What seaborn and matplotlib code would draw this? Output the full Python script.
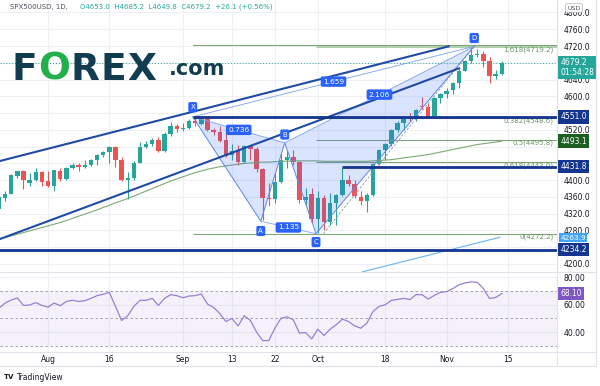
import numpy as np
import pandas as pd
import matplotlib
matplotlib.use("Agg")
import matplotlib.pyplot as plt
from matplotlib.patches import Polygon
from matplotlib.lines import Line2D
import seaborn as sns

# ---------------- data ----------------
bar_index = list(range(-8, 75))   # weekday index, 0 = Aug 2 2021
opens = [4332, 4358, 4368, 4410, 4422, 4394, 4401, 4419, 4398, 4387, 4423, 4403, 4429, 4437, 4432, 4437,
         4448, 4461, 4468, 4479, 4448, 4400, 4406, 4442, 4480, 4486, 4496, 4470, 4510, 4529, 4523, 4524,
         4541, 4535, 4546, 4520, 4514, 4495, 4459, 4472, 4443, 4481, 4474, 4426, 4358, 4354, 4396, 4449,
         4455, 4443, 4352, 4366, 4308, 4357, 4300, 4346, 4364, 4400, 4391, 4361, 4351, 4364, 4438, 4471,
         4486, 4520, 4536, 4550, 4545, 4578, 4575, 4552, 4596, 4605, 4614, 4631, 4661, 4684, 4698, 4702,
         4685, 4649, 4653.0]
highs = [4360, 4373, 4415, 4423, 4425, 4416, 4430, 4421, 4422, 4424, 4428, 4431, 4441, 4441, 4449, 4450,
         4462, 4470, 4481, 4482, 4456, 4419, 4445, 4490, 4493, 4500, 4503, 4514, 4538, 4533, 4536, 4546,
         4552, 4548, 4549, 4524, 4529, 4521, 4487, 4485, 4485, 4484, 4478, 4430, 4394, 4416, 4465, 4470,
         4473, 4446, 4382, 4382, 4375, 4365, 4369, 4366, 4430, 4413, 4400, 4375, 4370, 4440, 4475, 4488,
         4521, 4540, 4550, 4560, 4570, 4598, 4585, 4598, 4608, 4620, 4635, 4664, 4686, 4718, 4714, 4708,
         4693, 4662, 4685.2]
lows = [4328, 4351, 4366, 4405, 4380, 4386, 4398, 4386, 4384, 4373, 4398, 4400, 4427, 4422, 4429, 4434,
        4436, 4455, 4440, 4432, 4398, 4356, 4401, 4440, 4477, 4482, 4468, 4466, 4505, 4515, 4517, 4522,
        4530, 4531, 4517, 4507, 4490, 4456, 4447, 4435, 4440, 4448, 4420, 4306, 4338, 4346, 4394, 4428,
        4436, 4346, 4340, 4300, 4275, 4282, 4294, 4292, 4362, 4387, 4358, 4340, 4323, 4362, 4436, 4447,
        4482, 4515, 4520, 4540, 4542, 4569, 4550, 4548, 4583, 4596, 4605, 4621, 4660, 4679, 4695, 4670,
        4631, 4641, 4649.8]
closes = [4358.7, 4367.5, 4411.8, 4422.3, 4401.5, 4400.6, 4419.2, 4395.3, 4387.2, 4423.2, 4402.7, 4429.1,
          4436.5, 4432.4, 4436.8, 4447.7, 4460.8, 4468.0, 4479.7, 4448.1, 4400.3, 4405.8, 4441.7, 4479.5,
          4486.2, 4496.2, 4470.0, 4509.4, 4528.8, 4522.7, 4524.1, 4541.0, 4535.4, 4546.0, 4520.0, 4514.1,
          4493.3, 4458.6, 4468.7, 4443.1, 4480.7, 4473.8, 4426.0, 4357.7, 4354.2, 4395.6, 4449.0, 4455.5,
          4443.1, 4352.6, 4359.5, 4307.5, 4357.0, 4300.5, 4345.7, 4363.6, 4399.8, 4391.3, 4361.2, 4350.7,
          4363.8, 4438.3, 4471.4, 4486.5, 4519.6, 4536.2, 4549.8, 4544.9, 4566.5, 4574.8, 4551.7, 4596.4,
          4605.4, 4613.7, 4630.7, 4660.6, 4684.0, 4697.5, 4701.7, 4685.3, 4649.0, 4653.1, 4679.2]
ma_values = [4260, 4263, 4267, 4271, 4275, 4279, 4283, 4287, 4291, 4295, 4299, 4304, 4309, 4314, 4319, 4324,
             4329, 4335, 4340, 4346, 4351, 4356, 4362, 4368, 4374, 4380, 4386, 4392, 4398, 4403, 4408, 4413,
             4418, 4422, 4426, 4429, 4432, 4434, 4436, 4438, 4440, 4441, 4442, 4443, 4443, 4444, 4445, 4445,
             4446, 4446, 4446, 4446, 4446, 4445, 4445, 4445, 4445, 4445, 4445, 4445, 4445, 4446, 4447, 4448,
             4449, 4451, 4453, 4455, 4457, 4459, 4461, 4464, 4467, 4470, 4473, 4476, 4479, 4482, 4485, 4487,
             4489, 4491, 4493.1]
rsi_values = [57.5, 61.2, 63.4, 64.9, 59.5, 59.8, 61.5, 59.5, 58.3, 61.2, 59.3, 62.4, 63.2, 62.4, 62.9, 64.6,
              66.6, 67.6, 69.0, 58.8, 48.5, 52.0, 58.8, 63.2, 63.2, 64.6, 59.5, 64.6, 67.3, 66.6, 65.1, 66.3,
              66.6, 67.8, 60.5, 58.0, 53.7, 47.8, 50.0, 44.6, 52.0, 48.5, 40.2, 33.9, 33.9, 42.9, 50.2, 51.2,
              49.0, 39.3, 39.8, 35.1, 42.2, 37.6, 42.2, 45.4, 49.5, 47.8, 44.6, 42.9, 46.6, 55.1, 58.8, 60.0,
              63.2, 63.9, 64.6, 63.7, 67.3, 67.3, 64.1, 66.8, 69.0, 69.5, 71.7, 74.4, 75.9, 76.6, 76.3, 71.7,
              64.5, 65.3, 68.1]

date_tick_pos = [0, 10, 22, 30, 37, 44, 55, 65, 75]
date_tick_labels = ["Aug", "16", "Sep", "13", "22", "Oct", "18", "Nov", "15"]
price_ticks = list(range(4200, 4801, 40))
hidden_price_labels = [4680, 4560, 4480, 4440, 4240]   # covered by value tags in the reference
rsi_ticks = [40, 60, 80]

# XABCD pattern
pattern_names = ["X", "A", "B", "C", "D"]
pattern_x = [23.6, 34.7, 38.6, 43.7, 69.5]
pattern_y = [4551.0, 4302.0, 4489.0, 4272.2, 4719.2]
ratio_labels = ["0.736", "1.135", "2.106", "1.659"]
ratio_pairs = [(0, 2), (1, 3), (2, 4), (0, 4)]

# channel trend lines (start/end as bar index, price)
upper_channel = [(-8.0, 4445.1), (65.5, 4719.8)]
lower_channel = [(-8.0, 4258.7), (67.2, 4667.7)]
light_trend = [(51.2, 4181.0), (73.7, 4263.9)]

# horizontal levels
level_prices = [4551.0, 4431.8, 4234.2]
level_starts = [23.6, 47.9, -8.0]
fib_prices = [4719.2, 4548.6, 4495.8, 4443.0, 4272.2]
fib_labels = ["1.618(4719.2)", "0.382(4548.6)", "0.5(4495.8)", "0.618(4443.0)", "0(4272.2)"]
fib_starts = [43.7, 43.7, 43.7, 43.7, 23.6]
fib_ext_price = 4721.8
fib_ext_start = 23.6
last_price = 4679.2

# ---------------- style ----------------
sns.set_theme(style="white")
plt.rcParams["font.family"] = ["DejaVu Sans"]

W, H = 600, 386
fig = plt.figure(figsize=(W / 100, H / 100), dpi=100)
fig.patch.set_facecolor("white")

def fx(x):
    return x / W

def fy(y):
    return 1 - y / H

PLOT_R = 557
ax = fig.add_axes([0, fy(272), fx(PLOT_R), 272 / H])
ax2 = fig.add_axes([0, fy(352), fx(PLOT_R), 80 / H], sharex=ax)
for a in (ax, ax2):
    a.set_facecolor("white")
    for s in a.spines.values():
        s.set_visible(False)

ax.set_xlim(-7.83, 83.0)
ax.set_ylim(4180.9, 4829.8)
ax2.set_ylim(25.6, 83.8)

GREEN = "#26a69a"
RED = "#ef5350"
GRID = "#eef0f5"
TXT = "#131722"

# grid / ticks
ax.set_xticks(date_tick_pos)
ax.set_yticks(price_ticks)
ax.set_yticklabels(["" if v in hidden_price_labels else f"{v:.1f}" for v in price_ticks])
ax.grid(True, color=GRID, lw=0.8, zorder=0)
ax2.set_yticks(rsi_ticks)
ax2.set_yticklabels([f"{v:.2f}" for v in rsi_ticks])
ax2.grid(True, color=GRID, lw=0.8, zorder=0)
ax2.set_xticks(date_tick_pos)
ax2.set_xticklabels(date_tick_labels)
for a in (ax, ax2):
    a.yaxis.tick_right()
    a.tick_params(axis="y", length=0, pad=4.5, labelsize=5.5, labelcolor=TXT)
    a.set_axisbelow(True)
ax.tick_params(axis="x", length=0, labelbottom=False)
ax2.tick_params(axis="x", length=0, pad=2, labelsize=5.5, labelcolor=TXT)

# candles
colors = [GREEN if c >= o else RED for o, c in zip(opens, closes)]
o_arr = np.array(opens, dtype=float)
c_arr = np.array(closes, dtype=float)
ax.vlines(bar_index, lows, highs, colors=colors, lw=0.8, zorder=3)
ax.bar(bar_index, np.maximum(np.abs(c_arr - o_arr), 1.5), bottom=np.minimum(o_arr, c_arr),
       width=0.72, color=colors, linewidth=0, zorder=4)

# moving average
sns.lineplot(x=bar_index, y=ma_values, ax=ax, color="#7fa874", linewidth=0.8, zorder=5)

# fib levels
FIB = "#7ea67a"
for p, s in zip(fib_prices, fib_starts):
    lw = 2.2 if p == fib_prices[0] else 0.8
    col = "#b5d2b0" if p == fib_prices[0] else FIB
    ax.plot([s, 83.0], [p, p], color=col, lw=lw, zorder=5, solid_capstyle="butt")
ax.plot([fib_ext_start, 83.0], [fib_ext_price, fib_ext_price], color=FIB, lw=0.8, zorder=5)
for p, t in zip(fib_prices, fib_labels):
    ax.annotate(t, (82.4, p), xytext=(0, -2.3), textcoords="offset points", ha="right", va="center",
                fontsize=5, color="#6b9566", zorder=6)

# pattern fills / lines
PB = "#2962ff"
xa = list(zip(pattern_x, pattern_y))
ax.add_patch(Polygon([xa[0], xa[1], xa[2]], closed=True, fc=PB, alpha=0.17, ec="none", zorder=5))
ax.add_patch(Polygon([xa[2], xa[3], xa[4]], closed=True, fc=PB, alpha=0.17, ec="none", zorder=5))
ax.plot(pattern_x, pattern_y, color="#5b86f0", lw=0.7, zorder=6)
for (a_, b_) in ratio_pairs:
    ax.plot([pattern_x[a_], pattern_x[b_]], [pattern_y[a_], pattern_y[b_]], color="#7fa0f2", lw=0.6, zorder=6)
ax.plot([pattern_x[3] + 1.2, pattern_x[4]], [pattern_y[3], pattern_y[4]], color="#8c97ad", lw=0.6,
        ls=(0, (3, 2)), zorder=6)

# channel lines
NAVY = "#1f4ba5"
for seg in (upper_channel, lower_channel):
    ax.plot([seg[0][0], seg[1][0]], [seg[0][1], seg[1][1]], color=NAVY, lw=1.5, zorder=7,
            solid_capstyle="butt")
ax.plot([light_trend[0][0], light_trend[1][0]], [light_trend[0][1], light_trend[1][1]],
        color="#64b5f6", lw=0.8, zorder=7)

# horizontal levels
DNAVY = "#14358f"
for p, s in zip(level_prices, level_starts):
    ax.plot([s, 83.0], [p, p], color=DNAVY, lw=2.0, zorder=7, solid_capstyle="butt")

# last price dotted line
ax.axhline(last_price, color=GREEN, lw=0.7, ls=(0, (1, 2)), zorder=6)

# pattern point labels
offsets = [7, -7, 6, -6, 6]
for n, x, y, off in zip(pattern_names, pattern_x, pattern_y, offsets):
    ax.annotate(n, (x, y), xytext=(0, off), textcoords="offset points", ha="center", va="center",
                fontsize=5, color="white", zorder=9,
                bbox=dict(boxstyle="round,pad=0.3,rounding_size=0.25", fc=PB, ec="none"))
for t, (a_, b_) in zip(ratio_labels, ratio_pairs):
    mx = (pattern_x[a_] + pattern_x[b_]) / 2
    my = (pattern_y[a_] + pattern_y[b_]) / 2
    ax.annotate(t, (mx, my), ha="center", va="center", fontsize=5.3, color="white", zorder=9,
                bbox=dict(boxstyle="round,pad=0.3,rounding_size=0.25", fc=PB, ec="none"))

# RSI panel
ax2.axhspan(30, 70, color="#7e57c2", alpha=0.08, lw=0, zorder=1)
for lv in (70, 50, 30):
    ax2.axhline(lv, color="#9598a1", lw=0.6, ls=(0, (3, 3)), zorder=2)
sns.lineplot(x=bar_index, y=rsi_values, ax=ax2, color="#9a7fd6", linewidth=0.9, zorder=4)

for a in (ax, ax2):
    a.set_xlabel("")
    a.set_ylabel("")

# right-side value tags
def tag(a, y, text, fc, size=5.5, pad=0.28):
    a.text(1.006, y, text, transform=a.get_yaxis_transform(), ha="left", va="center", fontsize=size,
           color="white", zorder=20, clip_on=False,
           bbox=dict(boxstyle=f"square,pad={pad}", fc=fc, ec="none"))

tag(ax, 4551.0, "4551.0", "#14358f")
tag(ax, 4493.1, "4493.1", "#1b5e20")
tag(ax, 4431.8, "4431.8", "#14358f")
tag(ax, 4262.5, "4263.9", "#42a5f5", size=5.3, pad=0.18)
tag(ax, 4234.2, "4234.2", "#14358f")
tag(ax, 4668.5, "4679.2\n01:54:28", GREEN)
tag(ax2, 68.1, "68.10", "#7e57c2")

# borders
BORDER = "#e0e3eb"
fig.add_artist(Line2D([fx(PLOT_R), fx(PLOT_R)], [fy(0), fy(366)], color=BORDER, lw=0.8))
fig.add_artist(Line2D([0, fx(596)], [fy(272), fy(272)], color=BORDER, lw=0.8))
fig.add_artist(Line2D([0, fx(596)], [fy(352), fy(352)], color=BORDER, lw=0.8))
fig.add_artist(Line2D([0, fx(596)], [fy(366), fy(366)], color=BORDER, lw=0.8))
fig.add_artist(Line2D([fx(596), fx(596)], [fy(0), fy(366)], color=BORDER, lw=0.8))

# header
fig.text(fx(10), fy(7), "SPX500USD, 1D,", fontsize=5, color="#50535e", va="center")
fig.text(fx(80), fy(7), "O4653.0  H4685.2  L4649.8  C4679.2  +26.1 (+0.56%)", fontsize=5,
         color=GREEN, va="center")
fig.text(fx(574), fy(8), "USD", fontsize=4.5, color="#50535e", ha="center", va="center",
         bbox=dict(boxstyle="round,pad=0.3", fc="white", ec="#b2b5be", lw=0.5))

# FOREX.com logo
LOGO = "#123c50"
for ch, x0, col in zip(["F", "O", "R", "E", "X"], [11.5, 38.5, 71, 101, 127],
                       [LOGO, "#22b04b", LOGO, LOGO, LOGO]):
    fig.text(fx(x0), fy(80), ch, fontsize=27, fontweight="heavy", color=col, va="baseline")
fig.text(fx(169), fy(75), ".com", fontsize=15, fontweight="bold", color=LOGO, va="baseline")

# TradingView mark
fig.text(fx(4), fy(377), "TV", fontsize=5, fontweight="heavy", color=TXT, va="center")
fig.text(fx(17), fy(377), "TradingView", fontsize=5.5, color=TXT, va="center")

fig.savefig("out.png", dpi=100, facecolor="white")
